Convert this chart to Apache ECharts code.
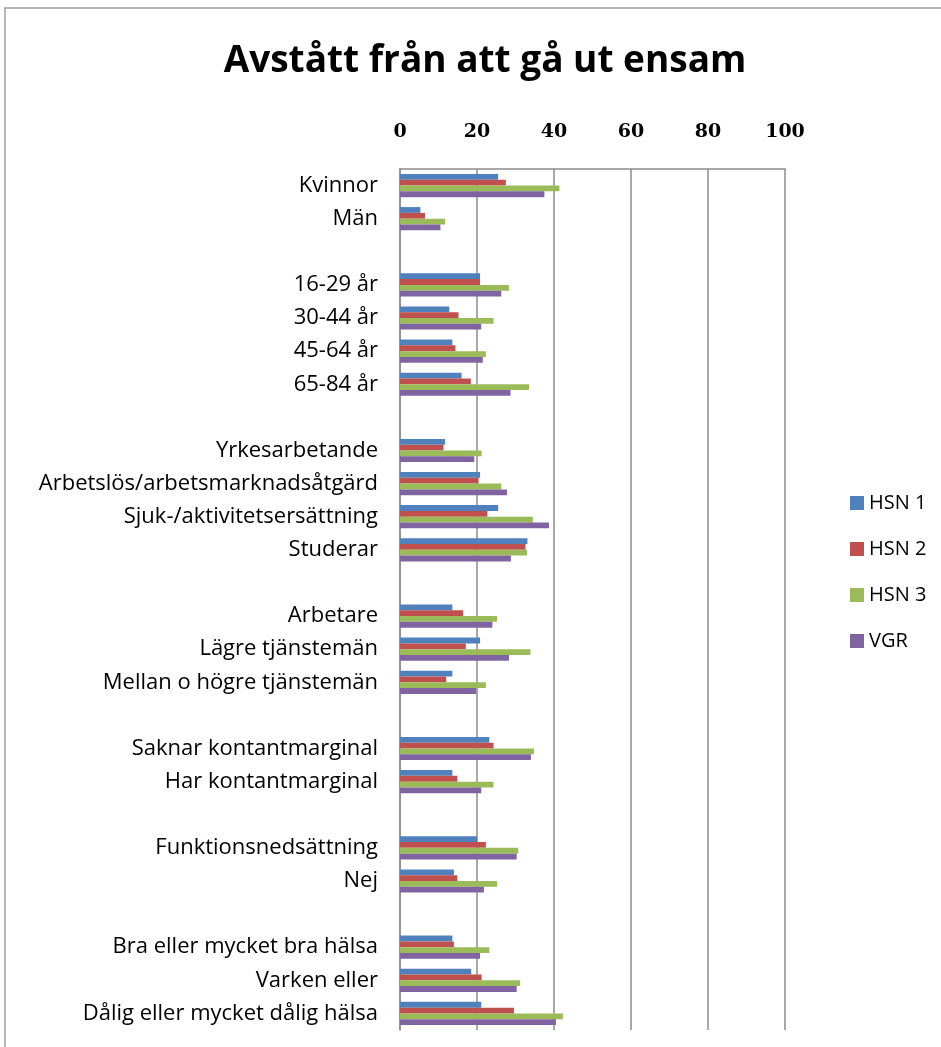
<!DOCTYPE html>
<html>
<head>
<meta charset="utf-8">
<script src="https://cdn.jsdelivr.net/npm/echarts@6/dist/echarts.min.js"></script>
<style>
  html, body { margin: 0; padding: 0; background: #fff; }
  #chart { width: 941px; height: 1047px; }
</style>
</head>
<body>
<div id="chart"></div>
<script>
// Groups separated by empty rows
const categories = [
  'Kvinnor', 'Män', '',
  '16-29 år', '30-44 år', '45-64 år', '65-84 år', '',
  'Yrkesarbetande', 'Arbetslös/arbetsmarknadsåtgärd', 'Sjuk-/aktivitetsersättning', 'Studerar', '',
  'Arbetare', 'Lägre tjänstemän', 'Mellan o högre tjänstemän', '',
  'Saknar kontantmarginal', 'Har kontantmarginal', '',
  'Funktionsnedsättning', 'Nej', '',
  'Bra eller mycket bra hälsa', 'Varken eller', 'Dålig eller mycket dålig hälsa'
];

const seriesNames = ['HSN 1', 'HSN 2', 'HSN 3', 'VGR'];
const seriesColors = ['#4F81BD', '#C0504D', '#9BBB59', '#8064A2'];

const hsn1 = [25.5, 5.3, null, 20.8, 12.8, 13.6, 16.0, null, 11.7, 20.8, 25.5, 33.1, null, 13.6, 20.8, 13.6, null, 23.2, 13.6, null, 20.0, 14.0, null, 13.6, 18.5, 21.1];
const hsn2 = [27.5, 6.5, null, 20.8, 15.2, 14.4, 18.4, null, 11.3, 20.4, 22.7, 32.6, null, 16.4, 17.1, 12.0, null, 24.3, 14.9, null, 22.3, 14.9, null, 14.0, 21.2, 29.6];
const hsn3 = [41.4, 11.7, null, 28.3, 24.3, 22.3, 33.5, null, 21.2, 26.3, 34.5, 33.0, null, 25.2, 33.9, 22.3, null, 34.8, 24.3, null, 30.7, 25.2, null, 23.2, 31.2, 42.3];
const vgr  = [37.5, 10.5, null, 26.3, 21.1, 21.5, 28.7, null, 19.3, 27.8, 38.7, 28.8, null, 24.0, 28.3, 19.8, null, 34.0, 21.1, null, 30.3, 21.8, null, 20.8, 30.3, 40.5];

const xTicks = [0, 20, 40, 60, 80, 100];

const chart = echarts.init(document.getElementById('chart'));

const values = [hsn1, hsn2, hsn3, vgr];
const series = seriesNames.map((name, i) => ({
  name: name,
  type: 'bar',
  data: values[i],
  barGap: '0%',
  barCategoryGap: '30%',
  itemStyle: { color: seriesColors[i] },
  animation: false
}));

chart.setOption({
  backgroundColor: '#fff',
  animation: false,
  title: {
    text: 'Avstått från att gå ut ensam',
    left: 480,
    textAlign: 'center',
    top: 38,
    textStyle: { fontFamily: 'Open Sans', fontWeight: 'bold', fontSize: 37, color: '#000' }
  },
  legend: {
    data: seriesNames,
    orient: 'vertical',
    left: 845,
    top: 486,
    icon: 'rect',
    itemWidth: 14,
    itemHeight: 14,
    itemGap: 22,
    textStyle: { fontFamily: 'Open Sans', fontSize: 20, color: '#000', lineHeight: 24 }
  },
  grid: { left: 400, right: 156, top: 169, bottom: 17, containLabel: false },
  xAxis: {
    type: 'value',
    position: 'top',
    min: xTicks[0],
    max: xTicks[xTicks.length - 1],
    interval: 20,
    axisLine: { show: true, lineStyle: { color: '#8c8c8c', width: 1.5 } },
    axisTick: { show: false },
    axisLabel: {
      margin: 27,
      fontFamily: 'DejaVu Serif',
      fontWeight: 'bold',
      fontSize: 19,
      color: '#000'
    },
    splitLine: { show: true, lineStyle: { color: '#8c8c8c', width: 1.5 } }
  },
  yAxis: {
    type: 'category',
    data: categories,
    inverse: true,
    axisLine: { show: true, lineStyle: { color: '#8c8c8c', width: 1.5 } },
    axisTick: { show: false },
    axisLabel: {
      interval: 0,
      margin: 22,
      fontFamily: 'Open Sans',
      fontSize: 22,
      color: '#000'
    }
  },
  graphic: [{
    type: 'rect',
    shape: { x: 5, y: 8, width: 1000, height: 1100 },
    style: { fill: null, stroke: '#a0a0a0', lineWidth: 1.5 },
    silent: true
  }],
  series: series
});
</script>
</body>
</html>
